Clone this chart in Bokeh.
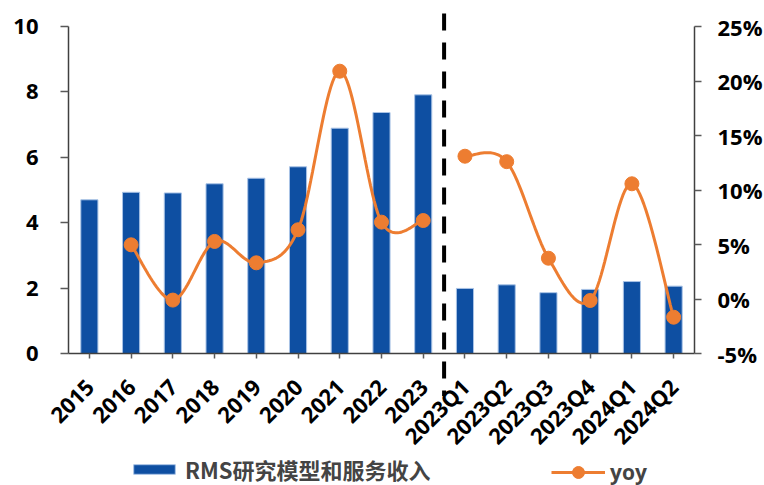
import numpy as np
from bokeh.plotting import figure
from bokeh.models import (Range1d, LinearAxis, FixedTicker, PrintfTickFormatter,
                          Legend, LegendItem, Arrow)
from bokeh.embed import file_html
from bokeh.resources import INLINE

categories = ["2015", "2016", "2017", "2018", "2019", "2020", "2021", "2022", "2023",
              "2023Q1", "2023Q2", "2023Q3", "2023Q4", "2024Q1", "2024Q2"]
revenue = [4.70, 4.93, 4.91, 5.19, 5.36, 5.71, 6.89, 7.37, 7.91,
           1.99, 2.10, 1.86, 1.96, 2.20, 2.06]
# yoy (%) : annual part (no value for 2015) and quarterly part
yoy_annual_cats = ["2016", "2017", "2018", "2019", "2020", "2021", "2022", "2023"]
yoy_annual = [4.97, -0.10, 5.28, 3.32, 6.35, 20.9, 7.05, 7.20]
yoy_quarter_cats = ["2023Q1", "2023Q2", "2023Q3", "2023Q4", "2024Q1", "2024Q2"]
yoy_quarter = [13.1, 12.6, 3.74, -0.14, 10.57, -1.67]
left_ticks = [0, 2, 4, 6, 8, 10]
right_ticks = [-5, 0, 5, 10, 15, 20, 25]
bar_label = "RMS研究模型和服务收入"
line_label = "yoy"

BLUE = "#0E4FA2"
ORANGE = "#ED7D31"
FONT = "Open Sans"

# ---- layout (pixels) ----
W, H = 764, 485
AX_LEFT, AX_RIGHT = 68, 694   # pixel columns of the left / right value axes
AX_TOP, AX_BOT = 26, 353      # pixel rows of the top / bottom of the value axes

idx = {c: i for i, c in enumerate(categories)}
n = len(categories)


def smooth(xs, ys, n=24):
    """Cubic Bezier (Catmull-Rom style) smoothing through the data points."""
    xs = np.asarray(xs, float)
    ys = np.asarray(ys, float)
    px = np.concatenate([[xs[0]], xs, [xs[-1]]])
    py = np.concatenate([[ys[0]], ys, [ys[-1]]])
    ox, oy = [], []
    t = np.linspace(0, 1, n)
    for i in range(1, len(px) - 2):
        p0 = np.array([px[i], py[i]])
        p3 = np.array([px[i + 1], py[i + 1]])
        c1 = p0 + (np.array([px[i + 1], py[i + 1]]) - np.array([px[i - 1], py[i - 1]])) / 6.0
        c2 = p3 - (np.array([px[i + 2], py[i + 2]]) - np.array([px[i], py[i]])) / 6.0
        b = ((1 - t) ** 3)[:, None] * p0 + (3 * (1 - t) ** 2 * t)[:, None] * c1 \
            + (3 * (1 - t) * t ** 2)[:, None] * c2 + (t ** 3)[:, None] * p3
        ox.extend(b[:, 0].tolist())
        oy.extend(b[:, 1].tolist())
    return ox, oy


def full_y_range(lo, hi):
    """Range spanning the whole canvas height such that lo..hi maps to AX_BOT..AX_TOP."""
    per_px = (hi - lo) / (AX_BOT - AX_TOP)
    return Range1d(lo - (H - AX_BOT) * per_px, hi + AX_TOP * per_px)


def full_x_range(lo, hi):
    per_px = (hi - lo) / (AX_RIGHT - AX_LEFT)
    return Range1d(lo - AX_LEFT * per_px, hi + (W - AX_RIGHT) * per_px)


x_lo, x_hi = -0.5, n - 0.5
p = figure(width=W, height=H, output_backend="svg", toolbar_location=None,
           x_range=full_x_range(x_lo, x_hi),
           y_range=full_y_range(left_ticks[0], left_ticks[-1]),
           min_border_left=0, min_border_right=0, min_border_top=0, min_border_bottom=0)
p.outline_line_color = None
p.xgrid.grid_line_color = None
p.ygrid.grid_line_color = None
p.extra_y_ranges = {"yoy": full_y_range(right_ticks[0], right_ticks[-1])}

bars = p.vbar(x=list(range(n)), top=revenue, width=0.41,
              fill_color=BLUE, line_color="#A9C3E6", line_width=1)

ax_x = [idx[c] for c in yoy_annual_cats]
qx = [idx[c] for c in yoy_quarter_cats]
sx1, sy1 = smooth(ax_x, yoy_annual)
sx2, sy2 = smooth(qx, yoy_quarter)
l1 = p.line(sx1, sy1, line_color=ORANGE, line_width=3, y_range_name="yoy")
p.line(sx2, sy2, line_color=ORANGE, line_width=3, y_range_name="yoy")
sc = p.scatter(ax_x + qx, yoy_annual + yoy_quarter, size=14, fill_color=ORANGE,
               line_color=ORANGE, y_range_name="yoy")

# dashed separator between annual and quarterly data
sep_x = len(yoy_annual_cats) + 0.5
p.add_layout(Arrow(end=None, x_start=sep_x, y_start=10.4, x_end=sep_x, y_end=-1.3,
                   line_color="black", line_width=4, line_dash="17 12"))

# axes
p.xaxis.ticker = FixedTicker(ticks=list(range(n)))
p.xaxis.major_label_overrides = {i: c for i, c in enumerate(categories)}
p.xaxis.major_label_orientation = np.pi / 4
p.xaxis.fixed_location = left_ticks[0]
p.xaxis.bounds = (x_lo, x_hi)
p.xaxis.major_label_standoff = 24
p.yaxis.ticker = FixedTicker(ticks=left_ticks)
p.yaxis.bounds = (left_ticks[0], left_ticks[-1])
p.yaxis.fixed_location = x_lo
p.yaxis.major_label_standoff = 22
right = LinearAxis(y_range_name="yoy", ticker=FixedTicker(ticks=right_ticks),
                   formatter=PrintfTickFormatter(format="%d%%"),
                   bounds=(right_ticks[0], right_ticks[-1]), fixed_location=x_hi)
right.major_label_standoff = 16
p.add_layout(right, "right")

for ax in [p.xaxis[0], p.yaxis[0], right]:
    ax.major_label_text_font = FONT
    ax.major_label_text_font_style = "bold"
    ax.major_label_text_font_size = "22px"
    ax.major_label_text_color = "black"
    ax.axis_line_color = "#404040"
    ax.axis_line_width = 1.5
    ax.major_tick_line_color = "#595959"
    ax.major_tick_line_width = 1.5
    ax.minor_tick_line_color = None
    ax.major_tick_in = 0
p.xaxis.major_tick_out = 5
p.yaxis.major_tick_out = 8
right.major_tick_out = 7

leg1 = Legend(items=[LegendItem(label=bar_label, renderers=[bars])],
              location=(128, 0), glyph_width=52, glyph_height=12,
              label_text_font="Noto Sans CJK SC", label_text_font_style="bold",
              label_text_font_size="22px", label_standoff=5, padding=0, margin=0,
              border_line_alpha=0, background_fill_alpha=0)
leg2 = Legend(items=[LegendItem(label=line_label, renderers=[l1, sc])],
              location=(551, -2), glyph_width=54, glyph_height=30,
              label_text_font=FONT, label_text_font_style="bold",
              label_text_font_size="21px", label_standoff=5, padding=0, margin=0,
              border_line_alpha=0, background_fill_alpha=0)
p.add_layout(leg1)
p.add_layout(leg2)

open("out.html", "w").write(file_html(p, INLINE))
